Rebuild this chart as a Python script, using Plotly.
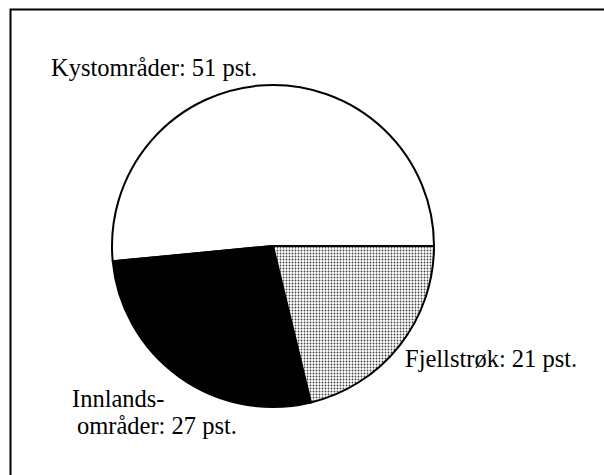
import plotly.graph_objects as go

W, H = 604, 475

categories = ["Kystområder", "Innlandsområder", "Fjellstrøk"]
values = [51, 27, 21]
label_lines = [["Kystområder: 51 pst."], ["Innlands-", "områder: 27 pst."], ["Fjellstrøk: 21 pst."]]

fill_colors = ["white", "black", "white"]
patterns = ["", "", "."]

# pie geometry (pixels)
cx, cy, r = 273, 246, 161

def px(x):
    return x / W

def py(y):
    return 1 - y / H

# first slice must start exactly at 3 o'clock, laid out counterclockwise
first_share = values[0] / sum(values) * 360
rot = -90 - first_share + 180

fig = go.Figure(go.Pie(
    labels=categories,
    values=values,
    sort=False,
    direction="counterclockwise",
    rotation=rot,
    textinfo="none",
    hoverinfo="skip",
    showlegend=False,
    marker=dict(
        colors=fill_colors,
        line=dict(color="black", width=2),
        pattern=dict(shape=patterns, fgcolor="#444444", bgcolor="white", size=3, solidity=0.3),
    ),
    domain=dict(x=[px(cx - r), px(cx + r)], y=[py(cy + r), py(cy - r)]),
))

font = dict(family="Liberation Serif, Times New Roman, serif", size=24.5, color="black")

# label anchor positions (left x, baseline y) in pixels
label_pos = [[(49, 75)], [(70, 406), (75, 433)], [(403, 366)]]

annotations = []
for lines, poss in zip(label_lines, label_pos):
    for text, (x, yb) in zip(lines, poss):
        annotations.append(dict(
            x=px(x), y=py(yb - 7.5), xref="paper", yref="paper",
            text=text, showarrow=False, xanchor="left", yanchor="middle",
            font=font,
        ))

fig.update_layout(
    width=W, height=H,
    margin=dict(l=0, r=0, t=0, b=0),
    paper_bgcolor="white",
    plot_bgcolor="white",
    annotations=annotations,
    shapes=[dict(type="rect", xref="paper", yref="paper",
                 x0=px(10.5), x1=1.05, y0=-0.05, y1=py(9.5),
                 line=dict(color="black", width=2))],
)

fig.write_html("out.html", config={"displayModeBar": False},
               post_script="document.body.style.margin='0';document.body.style.overflow='hidden';")
